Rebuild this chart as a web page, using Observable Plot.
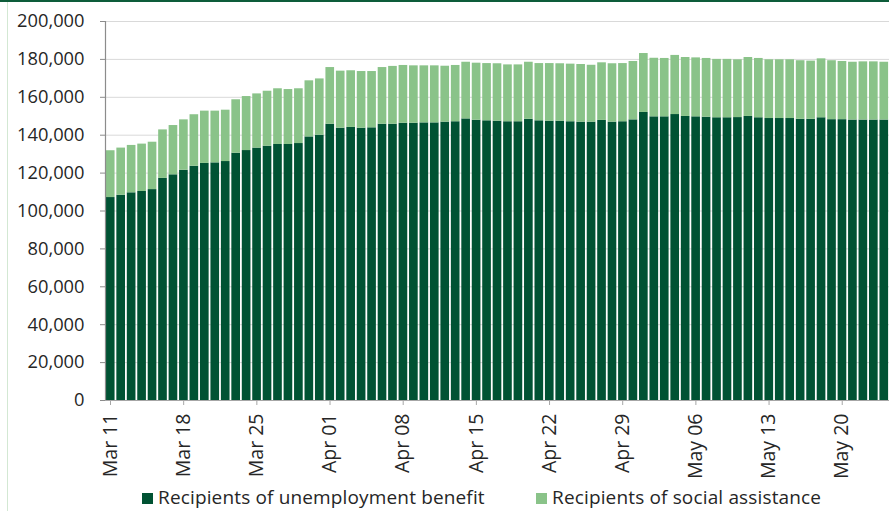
<!DOCTYPE html>
<html>
<head>
<meta charset="utf-8">
<script src="https://cdn.jsdelivr.net/npm/d3@7"></script>
<script src="https://cdn.jsdelivr.net/npm/@observablehq/plot@0.6"></script>
<style>
  html, body { margin: 0; padding: 0; background: #fff; }
  #wrap { position: relative; width: 889px; height: 511px; overflow: hidden; font-family: "Open Sans", Lato, sans-serif; color: #262626; }
  #topline { position: absolute; left: 0; top: 0; width: 889px; height: 2px; background: #0d5c3a; }
  #leftline { position: absolute; left: 7px; top: 2px; width: 1px; height: 509px; background: #d3e8d3; }
  #chart { position: absolute; left: 0; top: 0; }
  #legend { position: absolute; top: 488px; left: 0; width: 889px; height: 19px; font-size: 19px; line-height: 19px; letter-spacing: 0.15px; }
  .item { position: absolute; top: 0; height: 19px; display: flex; align-items: center; white-space: nowrap; }
  .sw { width: 11px; height: 11px; margin-right: 5px; margin-top: 1px; }
</style>
</head>
<body>
<div id="wrap">
  <div id="topline"></div>
  <div id="leftline"></div>
  <div id="chart"></div>
  <div id="legend"></div>
</div>
<script>
// Daily, 11 March – 24 May
const startDate = "2020-03-11";
const endDate = "2020-05-25"; // exclusive

const seriesNames = ["Recipients of unemployment benefit", "Recipients of social assistance"];
const seriesColors = ["#005233", "#8ac389"];

const unemployment = [
  107100,108300,109600,110300,111300,117200,119100,121500,123600,125100,
  125400,126100,130500,131900,133200,134200,135100,135100,135600,139100,
  140000,145800,143700,144100,143700,143900,145800,145800,146300,146300,
  146500,146500,146900,147100,148600,147900,147600,147400,147100,147100,
  148400,147600,147400,147400,147100,146900,146900,147800,146900,147100,
  148100,152000,149700,149700,150900,149900,149700,149500,149200,149200,
  149300,149900,149200,148800,148800,148800,148400,148400,149200,148200,
  148200,148000,148000,148000,148000
];
const socialAssistance = [
  24700,24900,25000,25000,25000,25600,26000,26600,27200,27600,
  27300,27100,28200,28500,28600,29000,29400,29000,28900,29600,
  29700,29900,30100,29900,29900,29700,29900,30500,30500,30300,
  30100,30100,29500,29700,29900,30100,30200,30300,30000,30000,
  30100,30200,30400,30300,30400,30400,30000,30400,30800,30700,
  30800,31100,30900,30800,31200,31100,31100,31000,30800,30800,
  30500,31100,31300,31000,31000,31000,30900,30700,31100,31100,
  30700,30500,30700,30700,30500
];
const yTicks = [0,20000,40000,60000,80000,100000,120000,140000,160000,180000,200000];
const xTickLabels = ["Mar 11","Mar 18","Mar 25","Apr 01","Apr 08","Apr 15","Apr 22","Apr 29","May 06","May 13","May 20"];

const parse = d3.utcParse("%Y-%m-%d");
const d0 = parse(startDate), d1 = parse(endDate);
const dates = d3.utcDay.range(d0, d1);
const xTicksWeekly = d3.range(xTickLabels.length).map(i => d3.utcDay.offset(d0, 7 * i));

const table = [];
dates.forEach((d, i) => {
  table.push({date: d, series: seriesNames[0], value: unemployment[i]});
  table.push({date: d, series: seriesNames[1], value: socialAssistance[i]});
});

const chart = Plot.plot({
  width: 889,
  height: 484,
  marginLeft: 105,
  marginRight: 0,
  marginTop: 21,
  marginBottom: 84,
  style: {fontFamily: "'Open Sans', Lato, sans-serif", fontSize: "18.3px", color: "#262626", background: "transparent"},
  x: {type: "utc", domain: [d0, d1]},
  y: {domain: [0, 200000]},
  color: {domain: seriesNames, range: seriesColors},
  marks: [
    Plot.gridY(yTicks, {stroke: "#d9d9d9", strokeOpacity: 1, strokeWidth: 1}),
    Plot.rectY(table, {x: "date", interval: "day", y: "value", fill: "series", order: seriesNames, insetLeft: 0.9, insetRight: 0.9}),
    Plot.ruleX([d0], {y1: 0, y2: 200000, stroke: "#8c8c8c", strokeWidth: 1.2}),
    Plot.ruleY([0], {stroke: "#a6a6a6", strokeWidth: 1.2}),
    Plot.axisY(yTicks, {tickFormat: d3.format(","), tickSize: 5, tickPadding: 16, stroke: "#8c8c8c", label: null, fill: "#262626", fontSize: 18.3}),
    Plot.axisX(xTicksWeekly, {tickFormat: (d, i) => xTickLabels[i], tickRotate: -90, tickSize: 5, tickPadding: 8, dx: 5, stroke: "#a6a6a6", label: null, fill: "#262626", fontSize: 19.5})
  ]
});
document.getElementById("chart").appendChild(chart);

const legend = document.getElementById("legend");
const legendX = [142, 536];
seriesNames.forEach((name, i) => {
  const it = document.createElement("div");
  it.className = "item";
  it.style.left = legendX[i] + "px";
  const sw = document.createElement("div");
  sw.className = "sw";
  sw.style.background = seriesColors[i];
  const tx = document.createElement("span");
  tx.textContent = name;
  it.appendChild(sw); it.appendChild(tx);
  legend.appendChild(it);
});
</script>
</body>
</html>
